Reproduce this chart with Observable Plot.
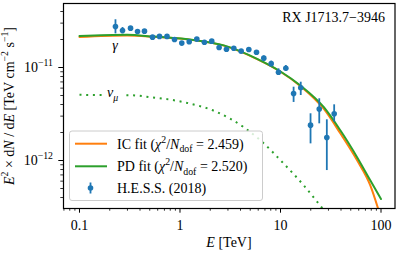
<!DOCTYPE html>
<html><head><meta charset="utf-8">
<script src="https://cdn.jsdelivr.net/npm/d3@7"></script>
<script src="https://cdn.jsdelivr.net/npm/@observablehq/plot@0.6"></script>
<style>body{margin:0;background:#fff} svg{display:block}</style>
</head><body><div id="chart"></div>
<script>
// H.E.S.S. (2018) data points: energy [TeV], E^2 dN/dE [TeV cm^-2 s^-1]
const energy = [0.228, 0.268, 0.322, 0.378, 0.443, 0.533, 0.625, 0.743, 0.882, 1.042, 1.235, 1.47, 1.75, 2.07, 2.45, 2.90, 3.43, 4.06, 4.84, 5.77, 6.82, 8.08, 9.55, 11.3, 13.5, 15.9, 19.9, 24.3, 28.9, 34.2];
const flux = [2.76e-11, 2.50e-11, 2.65e-11, 2.44e-11, 2.46e-11, 2.12e-11, 2.16e-11, 2.16e-11, 2.00e-11, 1.83e-11, 1.89e-11, 2.02e-11, 1.87e-11, 1.92e-11, 1.64e-11, 1.57e-11, 1.61e-11, 1.50e-11, 1.56e-11, 1.46e-11, 1.26e-11, 1.10e-11, 8.89e-12, 9.83e-12, 5.25e-12, 6.05e-12, 2.40e-12, 3.57e-12, 1.77e-12, 3.18e-12];
const fluxLo = [2.30e-11, 2.30e-11, 2.56e-11, 2.36e-11, 2.38e-11, 2.06e-11, 2.10e-11, 2.10e-11, 1.94e-11, 1.77e-11, 1.83e-11, 1.96e-11, 1.81e-11, 1.86e-11, 1.58e-11, 1.51e-11, 1.55e-11, 1.44e-11, 1.50e-11, 1.40e-11, 1.19e-11, 1.03e-11, 8.20e-12, 9.06e-12, 4.21e-12, 5.0e-12, 1.51e-12, 2.48e-12, 7.8e-13, 2.58e-12];
const fluxHi = [3.26e-11, 2.69e-11, 2.74e-11, 2.52e-11, 2.54e-11, 2.18e-11, 2.22e-11, 2.22e-11, 2.06e-11, 1.89e-11, 1.95e-11, 2.08e-11, 1.93e-11, 1.98e-11, 1.70e-11, 1.63e-11, 1.67e-11, 1.56e-11, 1.62e-11, 1.52e-11, 1.33e-11, 1.17e-11, 9.68e-12, 1.05e-11, 6.14e-12, 6.95e-12, 3.18e-12, 4.61e-12, 2.74e-12, 3.97e-12];

// Fit curves
const fitE = [0.1, 0.298, 0.545, 1.36, 2.73, 5.85, 10, 15.8, 27.0, 39.5, 58.0, 78.4, 100];
const icFlux = [2.13e-11, 2.21e-11, 2.14e-11, 1.97e-11, 1.72e-11, 1.23e-11, 9.0e-12, 6.3e-12, 3.58e-12, 1.95e-12, 1.0e-12, 5.38e-13, 2.4e-13];
const pdFlux = [2.18e-11, 2.25e-11, 2.15e-11, 1.98e-11, 1.73e-11, 1.24e-11, 9.06e-12, 6.40e-12, 3.74e-12, 2.10e-12, 1.08e-12, 6.09e-13, 3.85e-13];
const nuE = [0.1, 0.322, 0.509, 1.09, 2.34, 4.31, 6.34, 10.8, 17.1, 24.8, 31.4];
const nuFlux = [5.08e-12, 5.04e-12, 4.80e-12, 4.24e-12, 3.31e-12, 2.28e-12, 1.64e-12, 9.22e-13, 5.38e-13, 3.28e-13, 2.38e-13];

const xTicks = [0.1, 1, 10, 100];
const xTickLabels = ["0.1", "1", "10", "100"];
const yTicks = [1e-12, 1e-11];
const yTickExp = ["\u221212", "\u221211"];
const legendLabels = ["IC fit", "PD fit", "H.E.S.S. (2018)"];
const chiValues = ["2.459", "2.520"];
const sourceName = "RX J1713.7\u22123946";

const blue = "#1f77b4", orange = "#ff7f0e", green = "#2ca02c";
const FONT = "'Liberation Serif', 'Times New Roman', serif";
const FS = 14;
const xDomain = [0.06932, 137.8], yDomain = [3.048e-13, 4.877e-11];

const xMinor = [], yMinor = [];
for (const p of [-2, -1, 0, 1, 2]) for (let m = 2; m <= 9; m++) {
  const v = +(m * Math.pow(10, p)).toPrecision(3);
  if (v >= xDomain[0] && v <= xDomain[1]) xMinor.push(v);
}
for (const p of [-13, -12, -11]) for (let m = 2; m <= 9; m++) {
  const v = +(m * Math.pow(10, p)).toPrecision(3);
  if (v >= yDomain[0] && v <= yDomain[1]) yMinor.push(v);
}

const points = energy.map((e, i) => ({e, f: flux[i], lo: fluxLo[i], hi: fluxHi[i]}));
const ic = fitE.map((e, i) => ({e, f: icFlux[i]}));
const pd = fitE.map((e, i) => ({e, f: pdFlux[i]}));
const nu = nuE.map((e, i) => ({e, f: nuFlux[i]}));
const xLab = new Map(xTicks.map((t, i) => [t, xTickLabels[i]]));

const chart = Plot.plot({
  width: 399, height: 254,
  marginLeft: 63, marginRight: 4.5, marginTop: 3, marginBottom: 46,
  style: {fontFamily: FONT, fontSize: FS + "px", background: "white", color: "black"},
  x: {type: "log", domain: xDomain},
  y: {type: "log", domain: yDomain},
  marks: [
    Plot.axisX(xMinor, {tickSize: 2.7, tickFormat: () => "", label: null, strokeWidth: 0.8}),
    Plot.axisX(xTicks, {tickSize: 4.7, tickPadding: 7, tickFormat: d => xLab.get(d), label: null, strokeWidth: 1, fontSize: FS}),
    Plot.axisY(yMinor, {tickSize: 2.7, tickFormat: () => "", label: null, strokeWidth: 0.8}),
    Plot.axisY(yTicks, {tickSize: 4.7, tickFormat: () => "", label: null, strokeWidth: 1}),
    Plot.line(nu, {x: "e", y: "f", stroke: green, strokeWidth: 2, strokeDasharray: "2,4.7", strokeLinecap: "butt", curve: "monotone-x", clip: true}),
    Plot.line(ic, {x: "e", y: "f", stroke: orange, strokeWidth: 2, curve: "monotone-x", clip: true}),
    Plot.line(pd, {x: "e", y: "f", stroke: green, strokeWidth: 2, curve: "monotone-x", clip: true}),
    Plot.ruleX(points, {x: "e", y1: "lo", y2: "hi", stroke: blue, strokeWidth: 1.8}),
    Plot.dot(points, {x: "e", y: "f", r: 2.8, fill: blue, stroke: "none"}),
    Plot.frame({stroke: "black", strokeWidth: 1.2})
  ]
});
document.getElementById("chart").appendChild(chart);

const svg = d3.select(chart);
const ys = chart.scale("y");

function rich(sel, parts, size) {
  let off = 0;
  for (const p of parts) {
    const ts = sel.append("tspan").text(p.t);
    const target = p.sup ? -0.42 * size : p.sub ? 0.25 * size : 0;
    ts.attr("dy", target - off);
    off = target;
    if (p.sup || p.sub) ts.attr("font-size", size * 0.7);
    if (p.i) ts.attr("font-style", "italic");
  }
  return sel;
}
const g = svg.append("g").attr("font-family", FONT).attr("font-size", FS).attr("fill", "black").attr("text-anchor", "start");

// y tick labels
yTicks.forEach((v, i) => {
  const t = g.append("text").attr("x", 53).attr("y", ys.apply(v) + 4.7).attr("text-anchor", "end");
  rich(t, [{t: "10"}, {t: yTickExp[i], sup: true}], FS);
});

// axis labels
rich(g.append("text").attr("transform", "translate(14,106) rotate(-90)").attr("text-anchor", "middle"),
  [{t: "E", i: true}, {t: "2", sup: true}, {t: " \u00d7 d"}, {t: "N", i: true}, {t: " / d"}, {t: "E", i: true},
   {t: " [TeV cm"}, {t: "\u22122", sup: true}, {t: " s"}, {t: "\u22121", sup: true}, {t: "]"}], FS);
rich(g.append("text").attr("x", 229).attr("y", 247).attr("text-anchor", "middle"),
  [{t: "E", i: true}, {t: " [TeV]"}], FS);

// annotations
g.append("text").attr("x", 385).attr("y", 22).attr("text-anchor", "end").text(sourceName);
g.append("text").attr("x", 115).attr("y", 50).attr("text-anchor", "middle").attr("font-style", "italic").text("\u03b3");
g.append("rect").attr("x", 103).attr("y", 87).attr("width", 23).attr("height", 15).attr("fill", "white");
rich(g.append("text").attr("x", 107).attr("y", 97).attr("text-anchor", "start"),
  [{t: "\u03bd", i: true}, {t: "\u03bc", i: true, sub: true}], FS);

// legend
const L = svg.append("g").attr("font-family", FONT).attr("font-size", FS).attr("text-anchor", "start").attr("fill", "black");
L.append("rect").attr("x", 69.5).attr("y", 131).attr("width", 193).attr("height", 69.5).attr("rx", 2.5)
  .attr("fill", "white").attr("fill-opacity", 0.8).attr("stroke", "#cccccc").attr("stroke-width", 1);
[[orange, 143.7], [green, 166.3]].forEach(([c, y], i) => {
  L.append("line").attr("x1", 75).attr("x2", 107).attr("y1", y).attr("y2", y).attr("stroke", c).attr("stroke-width", 2);
  rich(L.append("text").attr("x", 117).attr("y", y + 4.8).attr("text-anchor", "start"),
    [{t: legendLabels[i] + " ("}, {t: "\u03c7", i: true}, {t: "2", sup: true}, {t: "/"}, {t: "N", i: true},
     {t: "dof", sub: true}, {t: " = " + chiValues[i] + ")"}], FS);
});
L.append("line").attr("x1", 90.5).attr("x2", 90.5).attr("y1", 182.5).attr("y2", 193.5).attr("stroke", blue).attr("stroke-width", 1.8);
L.append("circle").attr("cx", 90.5).attr("cy", 188).attr("r", 2.8).attr("fill", blue);
L.append("text").attr("x", 117).attr("y", 192.8).attr("text-anchor", "start").text(legendLabels[2]);
</script></body></html>
